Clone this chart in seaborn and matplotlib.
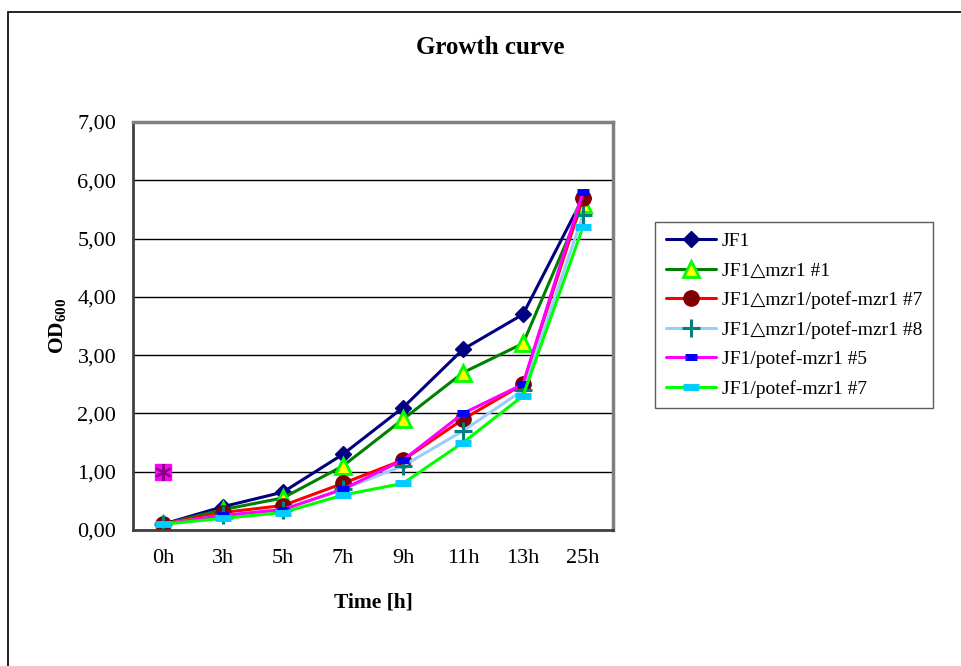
import numpy as np
import pandas as pd
import matplotlib
matplotlib.use('Agg')
import matplotlib.pyplot as plt
from matplotlib.patches import Rectangle
from matplotlib.ticker import FixedLocator, FuncFormatter
import seaborn as sb

# data
times = ['0h', '3h', '5h', '7h', '9h', '11h', '13h', '25h']
jf1 = [0.1, 0.4, 0.65, 1.3, 2.1, 3.1, 3.7, 5.7]
dmzr1_1 = [0.1, 0.35, 0.55, 1.1, 1.9, 2.7, 3.2, 5.6]
dmzr1_pot7 = [0.1, 0.3, 0.42, 0.8, 1.2, 1.9, 2.5, 5.7]
dmzr1_pot8 = [0.1, 0.25, 0.35, 0.7, 1.1, 1.7, 2.4, 5.4]
pot5 = [0.1, 0.25, 0.35, 0.7, 1.2, 2.0, 2.5, 5.8]
pot7 = [0.1, 0.2, 0.3, 0.6, 0.8, 1.5, 2.3, 5.2]
stray_time = ['0h']
stray_value = [1.0]

names = ['JF1', 'JF1\u25b3mzr1 #1', 'JF1\u25b3mzr1/potef-mzr1 #7',
         'JF1\u25b3mzr1/potef-mzr1 #8', 'JF1/potef-mzr1 #5', 'JF1/potef-mzr1 #7']
values = [jf1, dmzr1_1, dmzr1_pot7, dmzr1_pot8, pot5, pot7]
ytick_values = [0, 1, 2, 3, 4, 5, 6, 7]

# line colour, marker, marker face, marker edge, marker size, marker edge width
styles = [
    ('#000080', 'D', '#000080', '#000080', 8, 1),
    ('#008000', '^', '#FFFF00', '#00FF00', 11, 2),
    ('#FF0000', 'o', '#800000', '#800000', 11, 1),
    ('#99CCFF', '+', '#008080', '#008080', 13, 2.2),
    ('#FF00FF', '_', '#0000FF', '#0000FF', 8, 5),
    ('#00FF00', '_', '#00CCFF', '#00CCFF', 12, 5),
]

df = pd.DataFrame({'time': times})
for n, v in zip(names, values):
    df[n] = v
df['pos'] = np.arange(len(times))

sb.set_style('white')
plt.rcParams['font.family'] = ['Liberation Serif', 'DejaVu Sans']
plt.rcParams['mathtext.fontset'] = 'custom'
plt.rcParams['mathtext.rm'] = 'Liberation Serif'
plt.rcParams['mathtext.bf'] = 'Liberation Serif:bold'
for k in ['text.color', 'axes.labelcolor', 'xtick.color', 'ytick.color']:
    plt.rcParams[k] = 'black'

fig = plt.figure(figsize=(9.62, 6.66), dpi=100)
ax = fig.add_axes([133/962, 1-530/666, 480/962, 408/666])

for n, st in zip(names, styles):
    lc, mk, mf, me, ms, mw = st
    sb.lineplot(data=df, x='pos', y=n, ax=ax, color=lc, lw=2.2,
                marker=mk, markerfacecolor=mf, markeredgecolor=me,
                markersize=ms, markeredgewidth=mw, label=n, legend=False)

# odd extra point at 0h
stray_pos = [times.index(t) for t in stray_time]
ax.plot(stray_pos, stray_value, marker='s', ms=12, mfc='#FF00FF', mec='#FF00FF', ls='none')
ax.plot(stray_pos, stray_value, marker=(6, 2, 0), ms=12, mec='#800080', mew=1.5, ls='none')

ax.set_xlim(-0.5, len(times) - 0.5)
ax.set_ylim(0, 7)
ax.set_yticks(ytick_values)
ax.yaxis.set_major_formatter(FuncFormatter(lambda v, p: f'{v:.2f}'.replace('.', ',')))
ax.grid(axis='y', color='black', lw=1)
ax.set_axisbelow(True)

ax.set_xticks(np.arange(len(times)))
ax.set_xticklabels(times)
ax.xaxis.set_minor_locator(FixedLocator(np.arange(len(times) + 1) - 0.5))
ax.tick_params(axis='x', which='major', length=0, pad=14, labelsize=16)
ax.tick_params(axis='x', which='minor', length=6, width=1, color='#333333', direction='out')
ax.tick_params(axis='y', length=6, width=1, color='#333333', direction='out', pad=6, labelsize=16)

for s in ['top', 'right']:
    ax.spines[s].set_color('#808080')
    ax.spines[s].set_linewidth(2.5)
for s in ['left', 'bottom']:
    ax.spines[s].set_color('#404040')
    ax.spines[s].set_linewidth(2)

ax.set_xlabel('Time [h]', fontsize=15.5, fontweight='bold', labelpad=17)
ax.set_ylabel(r'OD$_{\mathbf{600}}$', fontsize=15.5, fontweight='bold', labelpad=6)
fig.text(490/962, 1-48/666, 'Growth curve', fontsize=18, fontweight='bold',
         ha='center', va='center')

handles, labels = ax.get_legend_handles_labels()
leg = fig.legend(handles, labels, loc='upper left', bbox_to_anchor=(655/962, 1-222/666),
                 borderaxespad=0, frameon=True, fancybox=False, edgecolor='#333333',
                 handlelength=2.6, labelspacing=0.6, borderpad=0.55, handletextpad=0.3,
                 prop={'family': ['Liberation Serif', 'DejaVu Sans'], 'size': 14})
leg.get_frame().set_linewidth(1)

# outer frame of the chart (right and bottom run off the picture)
fig.patches.append(Rectangle((8/962, -0.05), 1.1, 1-12/666 + 0.05, transform=fig.transFigure,
                             fill=False, edgecolor='black', lw=1.2))

fig.savefig('out.png', dpi=100)
